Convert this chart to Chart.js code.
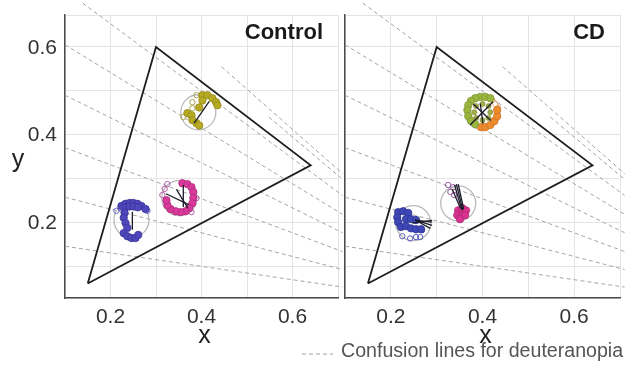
<!DOCTYPE html>
<html>
<head>
<meta charset="utf-8">
<script src="https://cdn.jsdelivr.net/npm/chart.js@4.4.1/dist/chart.umd.min.js"></script>
<style>
  html, body { margin: 0; padding: 0; background: #fff; }
  #wrap { position: relative; width: 639px; height: 371px; overflow: hidden; font-family: "Liberation Sans", Arial, sans-serif; }
  #leftBox { position: absolute; left: 0; top: 0; width: 345px; height: 345px; }
  #rightBox { position: absolute; left: 340px; top: 0; width: 285px; height: 345px; }
  #legend { position: absolute; left: 302px; top: 339px; height: 22px; display: flex; align-items: center; color: #555; font-size: 19.6px; white-space: nowrap; }
  #legend svg { margin-right: 8px; margin-top: 8px; }
</style>
</head>
<body>
<div id="wrap">
  <div id="leftBox"><canvas id="controlChart"></canvas></div>
  <div id="rightBox"><canvas id="cdChart"></canvas></div>
  <div id="legend">
    <svg width="31" height="4"><line x1="0" y1="2" x2="31" y2="2" stroke="#a0a0a0" stroke-width="1" stroke-dasharray="4 3"/></svg>
    <span>Confusion lines for deuteranopia</span>
  </div>
</div>
<script>
// ── Axes ────────────────────────────────────────────────
const xTickLabels = ["0.2", "0.4", "0.6"];
const yTickLabels = ["0.2", "0.4", "0.6"];

// ── Gamut triangle ──────────────────────────────────────
const triX = [0.15, 0.3, 0.64, 0.15];
const triY = [0.06, 0.6, 0.33, 0.06];

// ── Confusion lines (start / end) ───────────────────────
const confStartX = [0.1, 0.1, 0.1, 0.1, 0.1, 0.139, 0.444, 0.548];
const confStartY = [0.145, 0.257, 0.37, 0.49, 0.605, 0.7, 0.555, 0.44];
const confEndX = [0.71, 0.71, 0.71, 0.71, 0.71, 0.71, 0.71, 0.71];
const confEndY = [0.052, 0.092, 0.133, 0.176, 0.218, 0.261, 0.311, 0.298];

// ── Control panel ───────────────────────────────────────
const ctrlCircles = [[0.246, 0.205], [0.351, 0.255], [0.393, 0.451]];

const ctrlBlue = [
  [0.224, 0.237], [0.233, 0.242], [0.242, 0.244], [0.25, 0.244], [0.259, 0.242],
  [0.268, 0.237], [0.277, 0.23], [0.233, 0.234], [0.242, 0.236], [0.251, 0.236],
  [0.26, 0.234], [0.231, 0.221], [0.229, 0.21], [0.233, 0.198], [0.237, 0.187],
  [0.229, 0.175], [0.237, 0.168], [0.246, 0.164], [0.255, 0.164], [0.261, 0.171],
];
const ctrlBlueOpen = [[0.213, 0.226], [0.281, 0.226], [0.222, 0.232]];

const ctrlPink = [
  [0.358, 0.289], [0.369, 0.287], [0.378, 0.28], [0.382, 0.269], [0.382, 0.255],
  [0.38, 0.243], [0.373, 0.232], [0.365, 0.225], [0.354, 0.223], [0.343, 0.225],
  [0.332, 0.23], [0.325, 0.239], [0.323, 0.25],
];
const ctrlPinkOpen = [
  [0.319, 0.276], [0.314, 0.262], [0.325, 0.287], [0.389, 0.255], [0.378, 0.223],
];

const ctrlYellow = [
  [0.402, 0.49], [0.413, 0.49], [0.424, 0.483], [0.432, 0.474], [0.435, 0.467],
  [0.369, 0.449], [0.378, 0.444], [0.38, 0.433], [0.389, 0.426], [0.395, 0.421],
  [0.395, 0.462], [0.402, 0.478],
];
const ctrlYellowOpen = [[0.389, 0.49], [0.36, 0.44], [0.38, 0.46], [0.38, 0.474]];

const ctrlSegs = [
  [0.248, 0.224, 0.248, 0.183],
  [0.36, 0.285, 0.36, 0.235],
  [0.322, 0.265, 0.372, 0.24],
  [0.345, 0.275, 0.37, 0.232],
  [0.384, 0.426, 0.417, 0.476],
];

// ── CD panel ────────────────────────────────────────────
const cdCircles = [[0.249, 0.198], [0.347, 0.243], [0.4, 0.451]];

const cdBlue = [
  [0.216, 0.223], [0.227, 0.225], [0.238, 0.221], [0.214, 0.211], [0.216, 0.2],
  [0.222, 0.189], [0.233, 0.207], [0.244, 0.207], [0.255, 0.205], [0.233, 0.191],
  [0.244, 0.186], [0.255, 0.184], [0.266, 0.184],
];
const cdBlueOpen = [[0.225, 0.168], [0.242, 0.163], [0.255, 0.166], [0.264, 0.166], [0.268, 0.182]];

const cdPink = [
  [0.347, 0.227], [0.356, 0.232], [0.364, 0.227], [0.345, 0.216], [0.354, 0.214],
  [0.362, 0.216], [0.351, 0.207],
];
const cdPinkOpen = [[0.325, 0.285], [0.336, 0.28], [0.33, 0.269], [0.338, 0.262]];

const cdGreen = [
  [0.395, 0.486], [0.384, 0.483], [0.375, 0.477], [0.406, 0.486], [0.417, 0.483],
  [0.369, 0.467], [0.367, 0.456], [0.369, 0.442], [0.375, 0.431], [0.384, 0.424],
];
const cdOrange = [
  [0.397, 0.417], [0.406, 0.417], [0.417, 0.422], [0.426, 0.431], [0.432, 0.442],
  [0.432, 0.456],
];
const cdOrangeOpen = [[0.428, 0.47], [0.421, 0.479], [0.434, 0.461]];
const cdOlive = [
  [0.4, 0.47], [0.386, 0.465], [0.382, 0.451], [0.386, 0.438], [0.4, 0.433],
  [0.413, 0.438], [0.417, 0.451], [0.413, 0.465],
];

const cdSegs = [
  [0.373, 0.422, 0.423, 0.475],
  [0.395, 0.471, 0.401, 0.425],
  [0.38, 0.47, 0.418, 0.432],
  [0.339, 0.285, 0.355, 0.228],
  [0.343, 0.287, 0.357, 0.228],
  [0.347, 0.287, 0.359, 0.23],
  [0.334, 0.275, 0.352, 0.232],
  [0.253, 0.205, 0.29, 0.2],
  [0.253, 0.205, 0.29, 0.193],
  [0.253, 0.205, 0.286, 0.186],
  [0.247, 0.198, 0.29, 0.204],
];

// ── Helpers ─────────────────────────────────────────────
const FONT = '"Liberation Sans", Arial, sans-serif';
const pts = (arr) => arr.map(([x, y]) => ({ x, y }));

const filled = (data, color, edge, r = 3.7) => ({
  data: pts(data),
  backgroundColor: color,
  borderColor: edge,
  borderWidth: 0.8,
  pointRadius: r,
  order: 2,
});

const open = (data, color) => ({
  data: pts(data),
  backgroundColor: "rgba(255,255,255,0)",
  borderColor: color,
  borderWidth: 1,
  pointRadius: 2.7,
  order: 2,
});

const confusionSets = () =>
  confStartX.map((x0, i) => ({
    data: [
      { x: x0, y: confStartY[i] },
      { x: confEndX[i], y: confEndY[i] },
    ],
    showLine: true,
    borderColor: "#a4a4a4",
    borderWidth: 1,
    borderDash: [4, 3],
    pointRadius: 0,
    clip: false,
    order: 6,
  }));

const triangleSet = () => ({
  data: triX.map((x, i) => ({ x, y: triY[i] })),
  showLine: true,
  borderColor: "#1e1e1e",
  borderWidth: 1.8,
  pointRadius: 0,
  order: 5,
});

const circleSet = (centers) => ({
  data: pts(centers),
  backgroundColor: "rgba(255,255,255,0)",
  borderColor: "#b9b9b9",
  borderWidth: 1.3,
  pointRadius: 17.5,
  order: 4,
});

const segSets = (segs) =>
  segs.map(([x1, y1, x2, y2]) => ({
    data: [{ x: x1, y: y1 }, { x: x2, y: y2 }],
    showLine: true,
    borderColor: "#1c1c2a",
    borderWidth: 1.3,
    pointRadius: 0,
    order: 1,
  }));

// ── Panel text plugin: tick labels, axis titles, panel name ──
const panelText = {
  id: "panelText",
  afterDraw(chart, args, opts) {
    const { ctx, chartArea: a, scales } = chart;
    ctx.save();

    ctx.fillStyle = "#333";
    ctx.font = `21px ${FONT}`;
    ctx.textAlign = "center";
    ctx.textBaseline = "top";
    xTickLabels.forEach((t) => {
      ctx.fillText(t, scales.x.getPixelForValue(parseFloat(t)), a.bottom + 9);
    });
    if (opts.yTitle) {
      ctx.textAlign = "right";
      ctx.textBaseline = "middle";
      yTickLabels.forEach((t) => {
        ctx.fillText(t, a.left - 8, scales.y.getPixelForValue(parseFloat(t)) + 1);
      });
    }

    ctx.fillStyle = "#1a1a1a";
    ctx.font = `bold 22px ${FONT}`;
    ctx.textAlign = "right";
    ctx.textBaseline = "alphabetic";
    ctx.fillText(opts.title, a.right - opts.titleInset, a.top + 24);

    ctx.font = `25px ${FONT}`;
    ctx.textAlign = "center";
    ctx.fillStyle = "#222";
    ctx.fillText("x", (a.left + a.right) / 2 + 3, a.bottom + 45);
    if (opts.yTitle) ctx.fillText("y", 18, (a.top + a.bottom) / 2 + 10);
    ctx.restore();
  },
};

function makeChart(canvas, cfg) {
  return new Chart(canvas, {
    type: "scatter",
    data: {
      datasets: [
        ...segSets(cfg.segs),
        ...cfg.markers,
        circleSet(cfg.circles),
        triangleSet(),
        ...confusionSets(),
      ],
    },
    options: {
      responsive: true,
      maintainAspectRatio: false,
      animation: false,
      events: [],
      layout: {
        autoPadding: false,
        padding: { top: 15, right: cfg.padRight, left: 0, bottom: 0 },
      },
      plugins: {
        legend: { display: false },
        tooltip: { enabled: false },
        panelText: { title: cfg.title, titleInset: cfg.titleInset, yTitle: cfg.yTitle },
      },
      scales: {
        x: {
          type: "linear",
          min: 0.1,
          max: 0.7,
          afterFit: (s) => { s.height = 47; },
          grid: { color: "#e4e4e4", drawTicks: false },
          border: { color: "#4a4a4a", width: 1.5 },
          ticks: { stepSize: 0.1, autoSkip: false, display: false },
        },
        y: {
          type: "linear",
          min: 0.027,
          max: 0.673,
          afterFit: (s) => { s.width = cfg.yWidth; },
          grid: { color: "#e4e4e4", drawTicks: false },
          border: { color: "#4a4a4a", width: 1.5 },
          ticks: { stepSize: 0.1, autoSkip: false, display: false },
        },
      },
    },
    plugins: [panelText],
  });
}

// ── Control ─────────────────────────────────────────────
makeChart(document.getElementById("controlChart"), {
  title: "Control",
  titleInset: 15,
  yTitle: true,
  yWidth: 65,
  padRight: 7,
  circles: ctrlCircles,
  segs: ctrlSegs,
  markers: [
    filled(ctrlBlue, "#4f47bd", "#3a3496"),
    open(ctrlBlueOpen, "#6a60c6"),
    filled(ctrlPink, "#d83a9b", "#b02a7c"),
    open(ctrlPinkOpen, "#b35aa6"),
    filled(ctrlYellow, "#b6aa24", "#948a1c"),
    open(ctrlYellowOpen, "#a8a24c"),
  ],
});

// ── CD ──────────────────────────────────────────────────
makeChart(document.getElementById("cdChart"), {
  title: "CD",
  titleInset: 15,
  yTitle: false,
  yWidth: 5,
  padRight: 5,
  circles: cdCircles,
  segs: cdSegs,
  markers: [
    filled(cdBlue, "#3f47b8", "#2f3690"),
    open(cdBlueOpen, "#5a5abf"),
    filled(cdPink, "#d9338f", "#b02674"),
    open(cdPinkOpen, "#9a5aa0"),
    filled(cdOlive, "#a3ad4a", "#86913a", 2.5),
    filled(cdGreen, "#9bb63f", "#7f9733"),
    filled(cdOrange, "#ef8b2f", "#cf7424"),
    open(cdOrangeOpen, "#efb070"),
  ],
});
</script>
</body>
</html>
